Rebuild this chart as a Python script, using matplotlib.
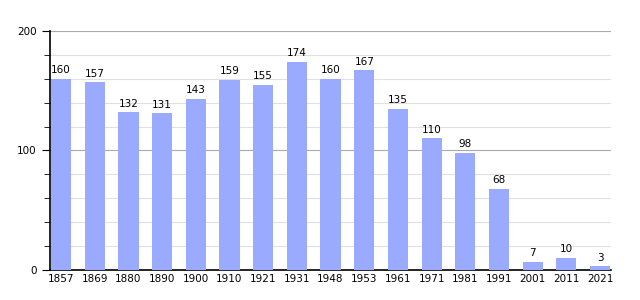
import matplotlib.pyplot as plt
from matplotlib.ticker import MultipleLocator

years = ['1857', '1869', '1880', '1890', '1900', '1910', '1921', '1931', '1948',
         '1953', '1961', '1971', '1981', '1991', '2001', '2011', '2021']
population = [160, 157, 132, 131, 143, 159, 155, 174, 160, 167, 135, 110, 98, 68, 7, 10, 3]

fig = plt.figure(figsize=(6.4, 3), dpi=100)
ax = fig.add_axes([0.078, 0.1, 0.877, 0.797])

x = range(len(years))
ax.bar(x, population, width=0.6, color='#99aaff', zorder=3)
for i, v in zip(x, population):
    ax.text(i, v + 3, str(v), ha='center', va='bottom', fontsize=7.5, zorder=4)

ax.set_xlim(-0.33, len(years) - 0.67)
ax.set_ylim(0, 200)
ax.yaxis.set_major_locator(MultipleLocator(100))
ax.yaxis.set_minor_locator(MultipleLocator(20))
ax.grid(axis='y', which='major', color='#aaaaaa', linewidth=0.8, zorder=0)
ax.grid(axis='y', which='minor', color='#e0e0e0', linewidth=0.8, zorder=0)

ax.set_xticks(list(x))
ax.set_xticklabels(years)
ax.tick_params(axis='x', length=0, labelsize=7.5, pad=3)
ax.tick_params(axis='y', which='major', length=6, labelsize=7.5)
ax.tick_params(axis='y', which='minor', length=4)

for s in ['top', 'right']:
    ax.spines[s].set_visible(False)
ax.spines['left'].set_linewidth(1.2)
ax.spines['bottom'].set_linewidth(1.2)

fig.savefig('out.png', dpi=100)
